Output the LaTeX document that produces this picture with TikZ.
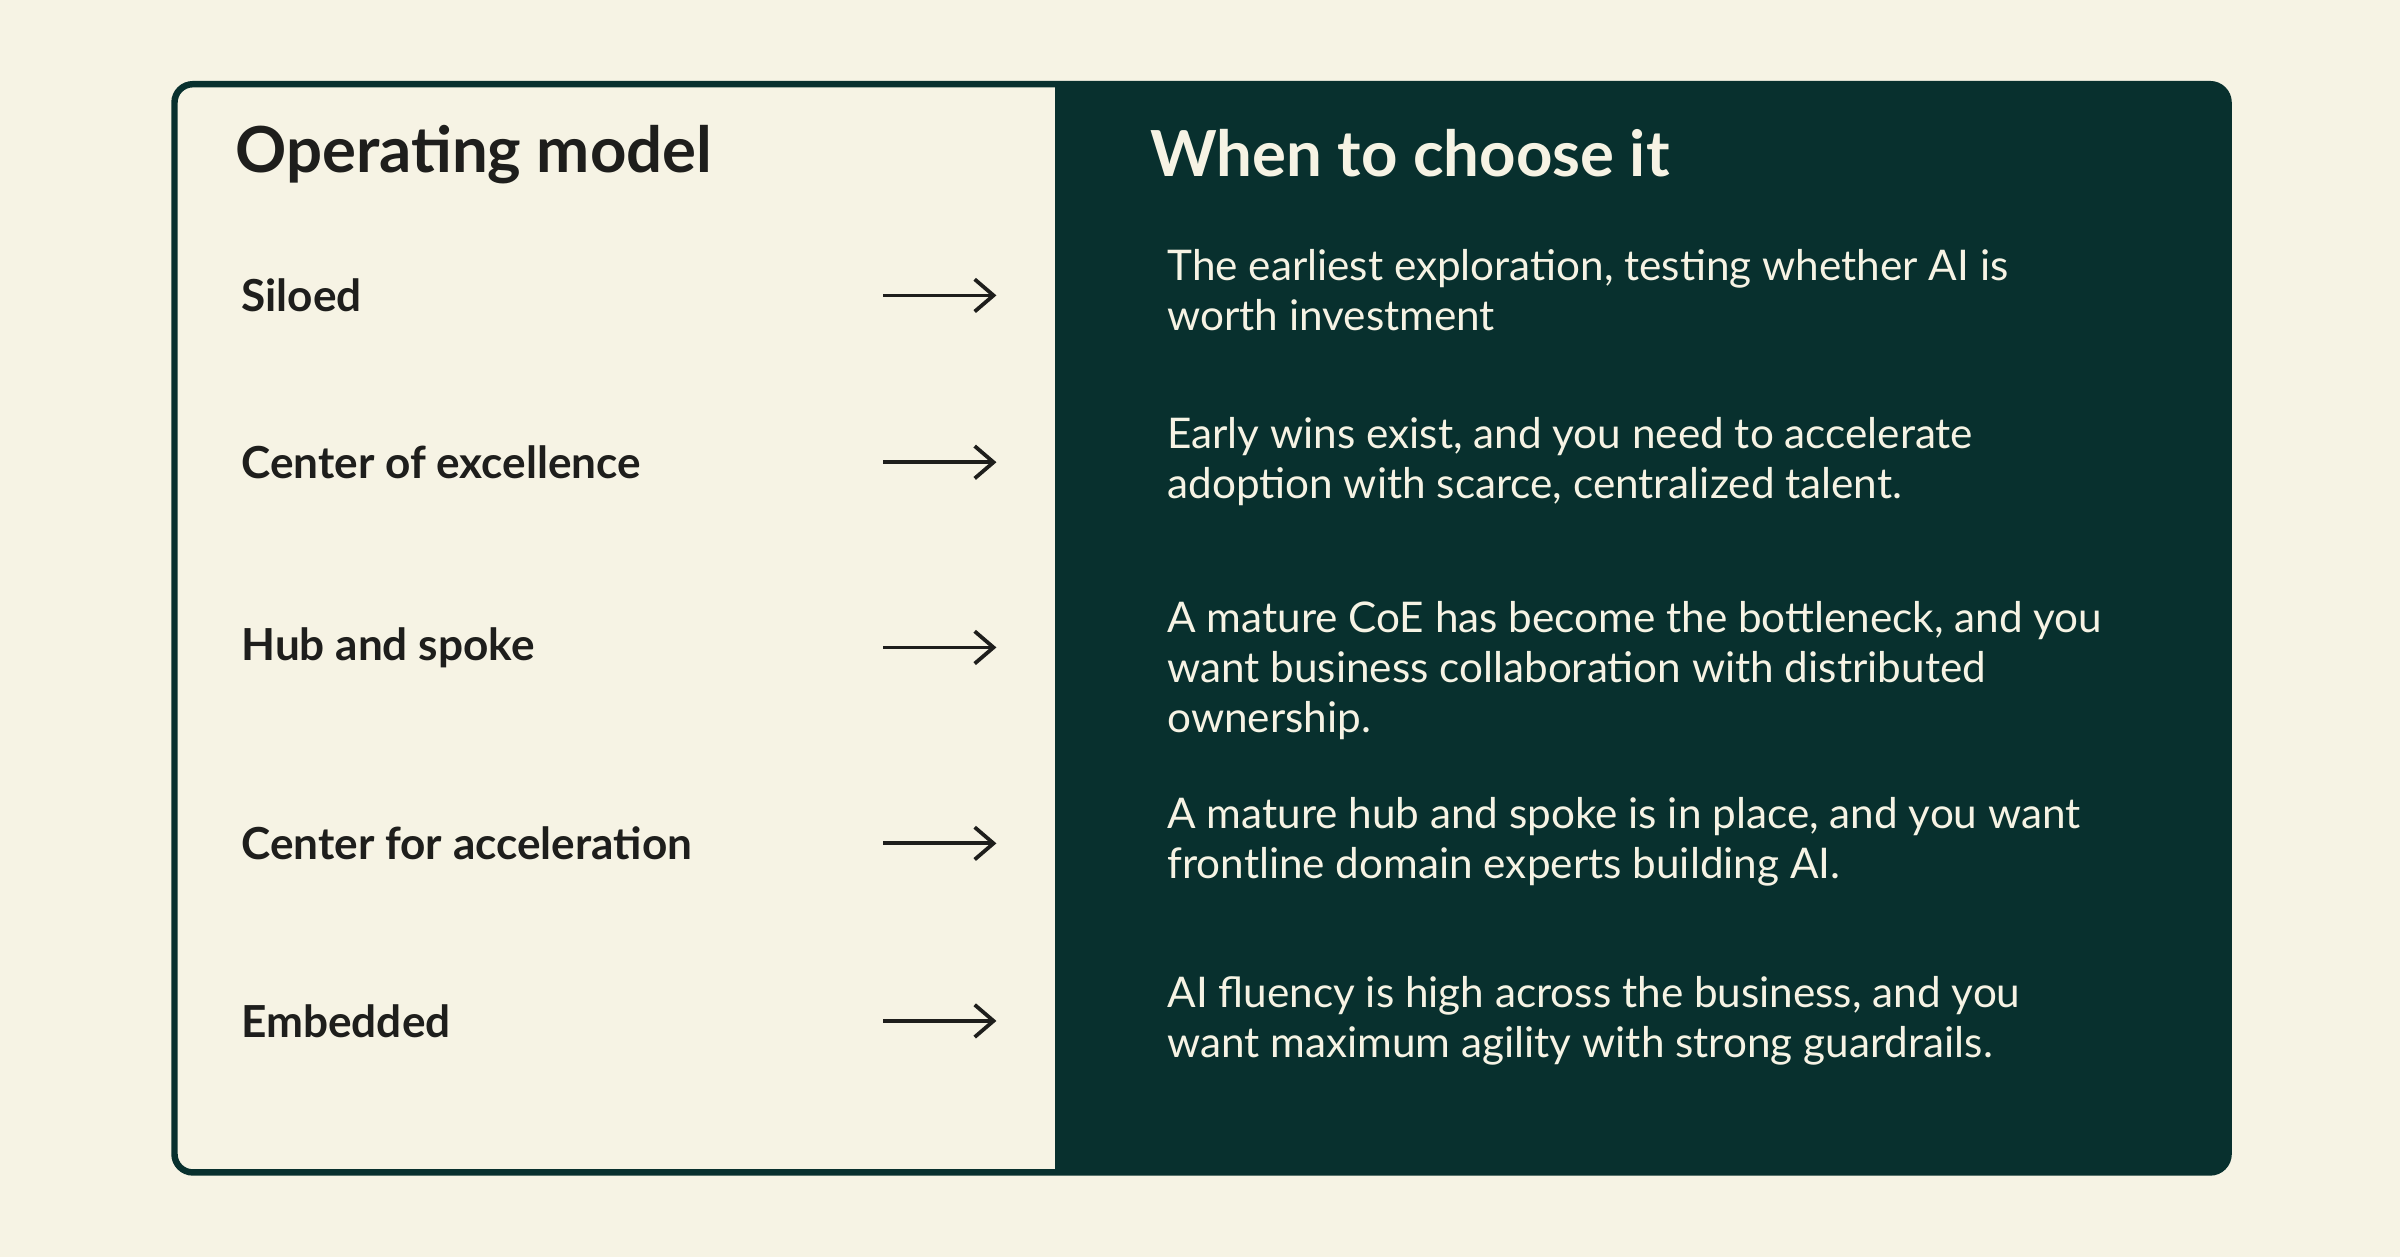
\documentclass[tikz,border=0pt]{standalone}
\usepackage{fontspec}
\setmainfont{Lato}
\usetikzlibrary{arrows.meta,positioning}
\definecolor{paper}{HTML}{F6F3E4}
\definecolor{pine}{HTML}{08302E}
\definecolor{ink}{HTML}{1E1E1C}
\begin{document}
\begin{tikzpicture}[
            x=0.01cm, y=-0.01cm,
            Model/.style={anchor=west, inner sep=0pt, text=ink, font=\fontsize{8.2pt}{9pt}\selectfont\bfseries},
            Reason/.style={anchor=north west, inner sep=0pt, text=paper, align=left,
                font=\fontsize{7.85pt}{9.35pt}\selectfont},
            Pointer/.style={-{Straight Barb[length=3.5pt,width=6pt]}, line width=0.7pt, ink},
            ]
            \fill[paper] (0,0) rectangle (1568,821);
            \useasboundingbox (0,0) rectangle (1568,821);
            \fill[pine, rounded corners=0.12cm] (600,55) rectangle (1456,766);
            \fill[paper] (115,56) rectangle (689,765);
            \draw[pine, line width=1.2pt, rounded corners=0.12cm] (114,55) rectangle (1456,766);

            \node[anchor=west, inner sep=0pt, text=ink, font=\fontsize{11.8pt}{13pt}\selectfont\bfseries] (head) at (153,101) {Operating model};
            \node[anchor=west, inner sep=0pt, text=paper, font=\fontsize{11.8pt}{13pt}\selectfont\bfseries] (when) at (751,100) {When to choose it};

            % rows: name, y of label, y of text top, text
            \foreach \i/\name/\ly/\ty/\txt in {
                1/Siloed/193/162/{The earliest exploration, testing whether AI is\\worth investment},
                2/Center of excellence/302/272/{Early wins exist, and you need to accelerate\\adoption with scarce, centralized talent.},
                3/Hub and spoke/423/392/{A mature CoE has become the bottleneck, and you\\want business collaboration with distributed\\ownership.},
                4/Center for acceleration/551/520/{A mature hub and spoke is in place, and you want\\frontline domain experts building AI.},
                5/Embedded/667/637/{AI fluency is high across the business, and you\\want maximum agility with strong guardrails.}}
            {
            \node[Model] (model\i) at (157,\ly) {\name};
            \coordinate (from\i) at (577,\ly);
            \coordinate (to\i) at (651,\ly);
            \draw[Pointer] (from\i) -- (to\i);
            \node[Reason] (reason\i) at (762,\ty) {\txt};
            }
        \end{tikzpicture}
\end{document}
